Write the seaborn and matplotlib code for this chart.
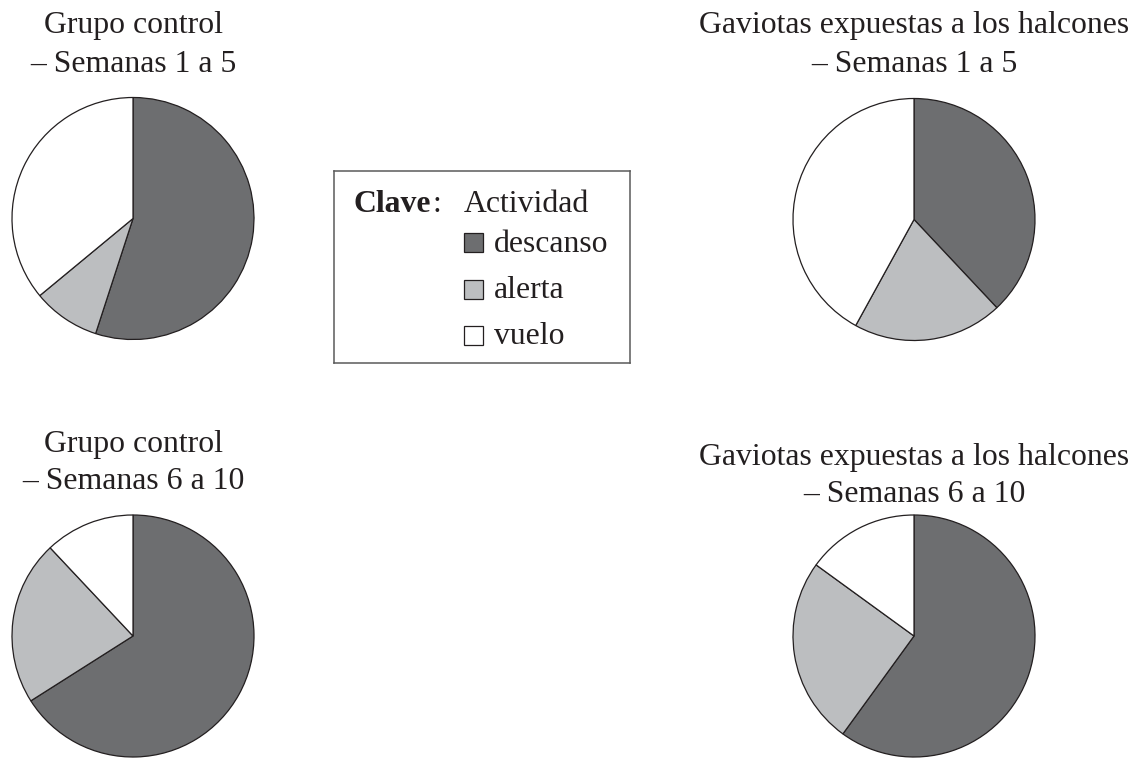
import matplotlib
matplotlib.use("Agg")  # save figures without a display

import matplotlib.pyplot as plt
import seaborn as sns
from matplotlib.patches import Rectangle

# Share of time spent on each activity (%).
ACTIVITIES = ["descanso", "alerta", "vuelo"]
CONTROL_WEEKS_1_5 = [55, 9, 36]
HAWKS_WEEKS_1_5 = [38, 20, 42]
CONTROL_WEEKS_6_10 = [66, 22, 12]
HAWKS_WEEKS_6_10 = [60, 25, 15]

TITLES = [
    ("Grupo control", "– Semanas 1 a 5"),
    ("Gaviotas expuestas a los halcones", "– Semanas 1 a 5"),
    ("Grupo control", "– Semanas 6 a 10"),
    ("Gaviotas expuestas a los halcones", "– Semanas 6 a 10"),
]

W, H = 1139, 758
dark, light, white, ink = "#6d6e70", "#bcbec0", "#ffffff", "#231f20"
palette = dict(zip(ACTIVITIES, [dark, light, white]))

sns.set_theme(style="white")
plt.rcParams["font.family"] = ["Liberation Serif", "DejaVu Serif"]
FS = 22.9

fig = plt.figure(figsize=(W / 100, H / 100), dpi=100)
fig.patch.set_facecolor("white")


def px_axes(x0, y0, x1, y1):
    # axes from pixel box (origin top-left)
    return fig.add_axes([x0 / W, 1 - y1 / H, (x1 - x0) / W, (y1 - y0) / H])


def px_text(x, y, s, **kw):
    fig.text(x / W, 1 - y / H, s, fontsize=FS, color=ink, va="baseline", **kw)


# (center x, center y, radius, baseline line 1, baseline line 2) in pixels
layout = [
    (133, 218.5, 121, 33.3, 71.7),
    (914, 219.5, 121, 33.3, 71.7),
    (133, 636, 121, 451.7, 489.3),
    (914, 636, 121, 465, 501.7),
]
series = [CONTROL_WEEKS_1_5, HAWKS_WEEKS_1_5, CONTROL_WEEKS_6_10, HAWKS_WEEKS_6_10]

for (cx, cy, r, b1, b2), values, (t1, t2) in zip(layout, series, TITLES):
    half = r * 1.25
    ax = px_axes(cx - half, cy - half, cx + half, cy + half)
    ax.pie(
        values,
        colors=[palette[a] for a in ACTIVITIES],
        startangle=90,
        counterclock=False,
        wedgeprops={"edgecolor": ink, "linewidth": 0.9},
    )
    ax.set_xlim(-1.25, 1.25)
    ax.set_ylim(-1.25, 1.25)
    ax.set_aspect("equal")
    ax.axis("off")
    px_text(cx, b1, t1, ha="center")
    px_text(cx, b2, t2, ha="center")

# key box in the middle of the top row
lx0, ly0, lx1, ly1 = 334, 170.7, 630, 363.3
kax = px_axes(lx0, ly0, lx1, ly1)
kax.set_xlim(lx0, lx1)
kax.set_ylim(ly1, ly0)
kax.set_xticks([])
kax.set_yticks([])
for spine in kax.spines.values():
    spine.set_visible(True)
    spine.set_color("#5a5a5a")
    spine.set_linewidth(1.1)

clave = kax.text(353.3, 211.7, "Clave", fontsize=FS, fontweight="bold",
                 color=ink, va="baseline")
# colon sits right after the bold word, same baseline
kax.annotate(":", xy=(1, 0), xycoords=clave, xytext=(1, 0),
             textcoords="offset points", fontsize=FS, color=ink,
             ha="left", va="bottom")
kax.text(463.3, 211.7, "Actividad", fontsize=FS, color=ink, va="baseline")

row_tops = [233.3, 280, 325.5]
for activity, top in zip(ACTIVITIES, row_tops):
    kax.add_patch(Rectangle((463.8, top), 19, 19, facecolor=palette[activity],
                            edgecolor=ink, linewidth=0.9))
    kax.text(494, top + 18.5, activity, fontsize=FS, color=ink, va="baseline")

plt.savefig("out.png", dpi=100)
plt.close()
